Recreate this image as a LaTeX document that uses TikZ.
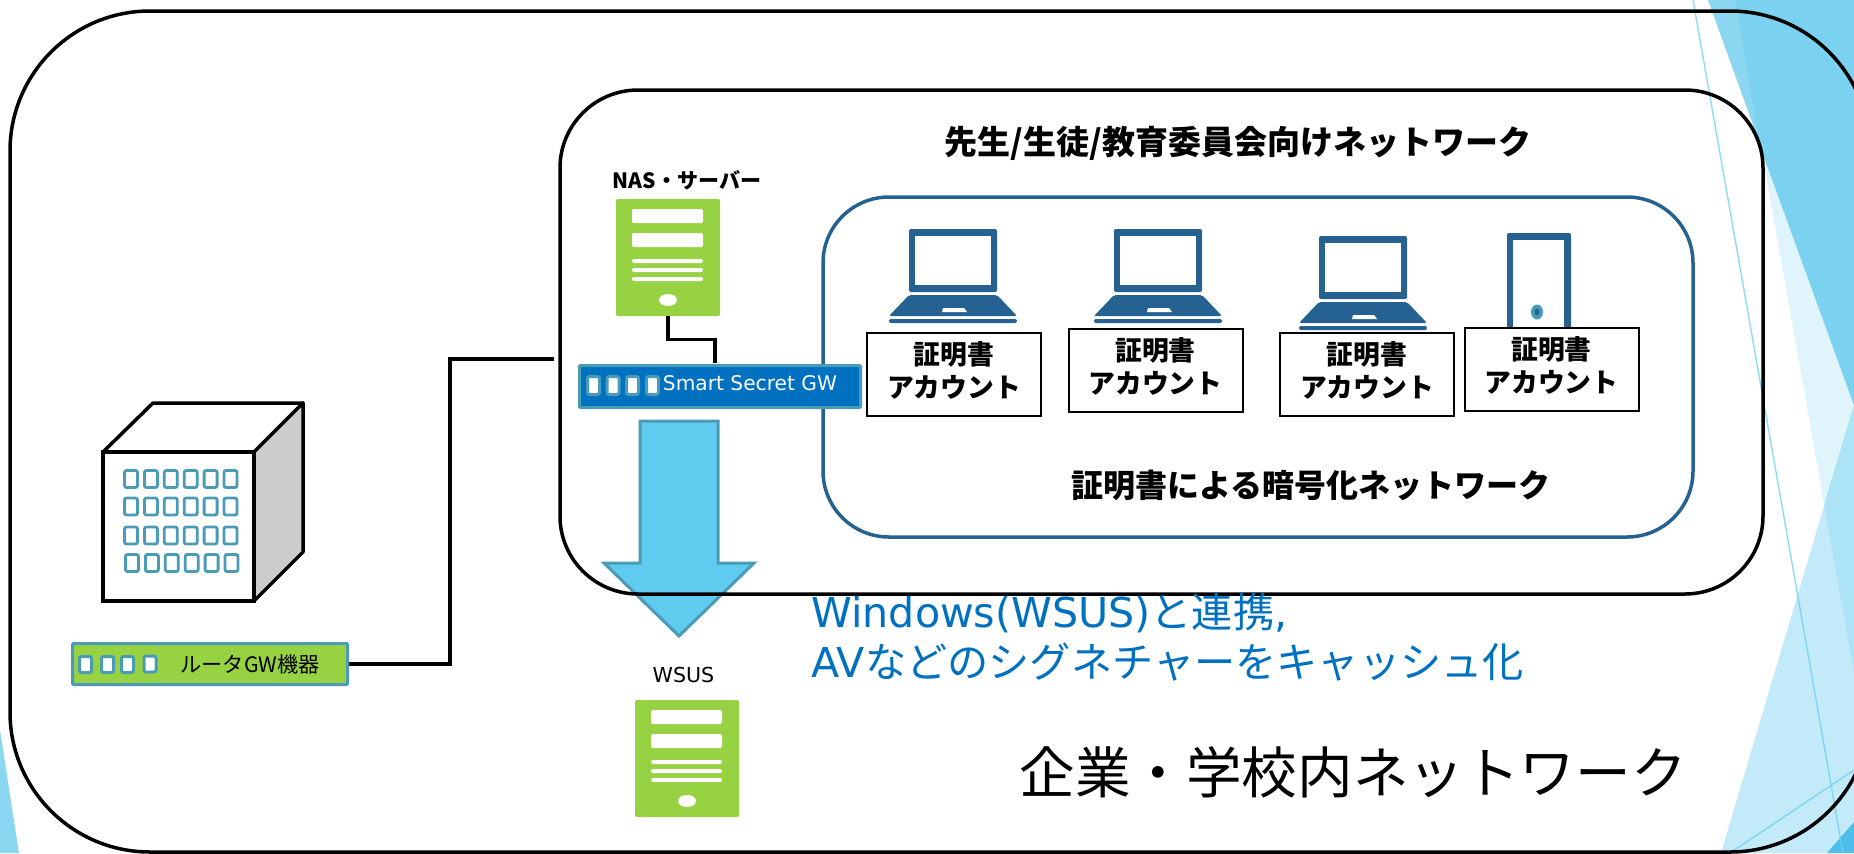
\documentclass[tikz,border=0pt]{standalone}
\usepackage{fontspec}
\setmainfont{DejaVu Sans}
\newfontfamily\cjk{Noto Sans CJK JP}
\usepackage{xcolor}
\usepackage{tikz}
\definecolor{teal1}{HTML}{4A9BB5}
\definecolor{navy1}{HTML}{256291}
\definecolor{green1}{HTML}{97D243}
\definecolor{gwblue}{HTML}{0070C0}
\definecolor{arrowblue}{HTML}{5FCBEF}
\tikzstyle{bgpale} = [fill={rgb,255:red,224;green,244;blue,251}]
\tikzstyle{bgmid} = [fill={rgb,255:red,139;green,215;blue,242}]
\tikzstyle{bgdark} = [fill={rgb,255:red,123;green,209;blue,240}]
\tikzstyle{bglight} = [fill={rgb,255:red,195;green,234;blue,248}]
\tikzstyle{bgcross} = [fill={rgb,255:red,173;green,227;blue,246}]
\tikzstyle{bgdeep} = [fill={rgb,255:red,77;green,189;blue,233}]
\tikzstyle{bgline} = [draw={rgb,255:red,111;green,210;blue,242}, line width=.7pt, opacity=.8]
\tikzstyle{zone} = [rectangle, draw, line width=1.75pt, inner sep=0pt]
\tikzstyle{certzone} = [rectangle, draw=navy1, line width=1.75pt, inner sep=0pt, minimum width=435pt, minimum height=170pt, rounded corners=33pt]
\tikzstyle{line} = [draw, line width=1.75pt]
\tikzstyle{certbox} = [rectangle, draw, fill=white, line width=1pt, inner sep=0pt, minimum width=87pt, minimum height=41.5pt, align=center, text depth=5pt, font=\fontsize{13.4}{16.5}\selectfont\cjk\bfseries]
\tikzstyle{gwbar} = [rectangle, draw=teal1, line width=1.5pt, inner sep=0pt, rounded corners=.5pt]
\tikzstyle{port} = [rectangle, draw=teal1, fill=white, line width=1.5pt, inner sep=0pt, rounded corners=1pt, minimum width=6pt]
\tikzstyle{window} = [rectangle, draw=teal1, fill=white, line width=1.4pt, inner sep=0pt, rounded corners=1pt, minimum width=6.5pt, minimum height=8.5pt]
\tikzstyle{heading} = [inner sep=0pt, font=\fontsize{16}{20}\selectfont\cjk\bfseries]
\newcommand{\serverbox}[3]{
\begin{scope}[shift={(#2,#3)}]
\node [rectangle, fill=green1, inner sep=0pt, minimum width=52pt, minimum height=58.5pt, rounded corners=1pt] (#1) at (52,58.5) {};
\fill [white, rounded corners=1pt] (16,10) rectangle (87,24);
\fill [white, rounded corners=1pt] (16,34) rectangle (87,48);
\fill [white, rounded corners=1pt] (16,60) rectangle (87,64);
\fill [white, rounded corners=1pt] (16,69) rectangle (87,73);
\fill [white, rounded corners=1pt] (16,78) rectangle (87,82);
\fill [white] (52,101) ellipse [x radius=9, y radius=6];
\end{scope}
}
\newcommand{\laptopicon}[2]{
\begin{scope}[shift={(#1,#2)}]
\fill [navy1, rounded corners=1pt] (0,0) rectangle (88,63);
\fill [white] (6,7) rectangle (82,56);
\fill [navy1, rounded corners=1pt] (0,66) -- (88,66) -- (108,87) -- (-20,87) -- cycle;
\fill [white] (34,79) -- (55,79) -- (58,83) -- (33,83) -- cycle;
\fill [navy1, rounded corners=1pt] (-20,90) rectangle (108,94);
\end{scope}
}
\begin{document}
\begin{tikzpicture}[x=.5pt, y=-.5pt]
\useasboundingbox (0,0) rectangle (1854,853);
\clip (0,0) rectangle (1854,853);

\fill [bgpale] (1735,0) -- (1854,673) -- (1854,0) -- cycle;
\fill [bgmid] (1708,0) -- (1854,405) -- (1854,0) -- cycle;
\fill [bgdark] (1735,0) -- (1761,149) -- (1854,405) -- (1854,0) -- cycle;
\fill [bglight] (1854,405) -- (1721,853) -- (1854,853) -- cycle;
\fill [bgcross] (1854,405) -- (1824,505) -- (1854,673) -- cycle;
\fill [bgdeep] (1827,853) -- (1854,822) -- (1854,853) -- cycle;
\fill [bgmid] (0,730) -- (19,853) -- (0,853) -- cycle;
\draw [bgline] (1693,0) -- (1843,853);
\draw [bgline] (1730,853) -- (1854,770);

\node [zone, minimum width=930pt, minimum height=420.5pt, rounded corners=70pt] (campus) at (940,431.5) {};

% building
\draw [line, fill=white, line join=round] (103,452) -- (153,403) -- (303,403) -- (254,452) -- cycle;
\draw [line, fill=black!20, line join=round] (254,452) -- (303,403) -- (303,552) -- (254,601) -- cycle;
\draw [line, fill=white] (103,452) rectangle (254,601);
\foreach \c in {0,...,5} {
\node [window] (wa\c) at (131+19.9*\c,479) {};
\node [window] (wb\c) at (131+19.9*\c,506.5) {};
\node [window] (wc\c) at (131+19.9*\c,535.5) {};
\node [window] (wd\c) at (132+19.9*\c,563) {};
}

% router
\node [gwbar, fill=green1, minimum width=137.5pt, minimum height=20.5pt] (router) at (210,664) {};
\node [port, minimum height=8pt] (rp1) at (85.5,664.5) {};
\node [port, minimum height=8pt] (rp2) at (107.5,664.5) {};
\node [port, minimum height=8pt] (rp3) at (127.5,664.5) {};
\node [port, minimum height=8pt] (rp4) at (150,664) {};
\node [inner sep=0pt, font=\fontsize{10.6}{13}\selectfont\cjk] (routertext) at (250,664) {ルータGW機器};
\coordinate (netedge) at (554,359);
\path [line] (router.east) -- ++(101,0) |- (netedge);

% arrow
\draw [draw=teal1, fill=arrowblue, line width=1.5pt] (640,421) -- (718,421) -- (718,563) -- (754,563) -- (679,636) -- (604,563) -- (640,563) -- cycle;

\node [zone, minimum width=601.5pt, minimum height=252pt, rounded corners=39pt] (schoolnet) at (1161.5,342) {};
\node [certzone] (certnet) at (1258,367) {};
\node [heading, font=\fontsize{16.5}{20}\selectfont\cjk\bfseries] (schooltext) at (1238,143) {先生/生徒/教育委員会向けネットワーク};
\node [heading] (certtext) at (1311,485) {証明書による暗号化ネットワーク};

% servers
\node [inner sep=0pt, font=\fontsize{10.5}{13}\selectfont\cjk\bfseries] (nastext) at (687,180) {NAS・サーバー};
\serverbox{nas}{616}{199}
\node [inner sep=0pt, font=\fontsize{10.3}{13}\selectfont] (wsustext) at (683.5,675) {WSUS};
\serverbox{wsus}{635}{700}

% gateway
\node [gwbar, fill=gwblue, minimum width=140.5pt, minimum height=21pt] (gw) at (720,386.5) {};
\node [port, minimum height=9pt] (gp1) at (593.5,385.5) {};
\node [port, minimum height=9pt] (gp2) at (613,385.5) {};
\node [port, minimum height=9pt] (gp3) at (632.5,385.5) {};
\node [port, minimum height=9pt] (gp4) at (652.5,385.5) {};
\node [inner sep=0pt, text=white, font=\fontsize{10.1}{13}\selectfont] (gwtext) at (750,383) {Smart Secret GW};
\coordinate (gwport) at (715,363);
\path [line] (nas.south) -- ++(0,23) -| (gwport);

% clients
\laptopicon{909}{229}
\laptopicon{1114}{229}
\laptopicon{1319}{236}
\fill [navy1, rounded corners=1pt] (1507,233) rectangle (1571,340);
\fill [white] (1513,240) rectangle (1564,340);
\fill [teal1] (1537,312) ellipse [x radius=6, y radius=7.5];
\fill [navy1] (1537,312) ellipse [x radius=2.5, y radius=3.5];
\node [certbox] (cert1) at (954,374.5) {証明書\\アカウント};
\node [certbox] (cert2) at (1155.5,370.5) {証明書\\アカウント};
\node [certbox] (cert3) at (1367,374.5) {証明書\\アカウント};
\node [certbox] (cert4) at (1551.5,369) {証明書\\アカウント};

% captions
\node [anchor=west, inner sep=0pt, align=left, text=gwblue, font=\fontsize{20.6}{25}\selectfont] (syncnote) at (811,637) {Windows(WSUS){\cjk と連携},\\AV{\cjk などのシグネチャーをキャッシュ化}};
\node [inner sep=0pt, font=\fontsize{27.8}{32}\selectfont\cjk] (campustext) at (1353,772) {企業・学校内ネットワーク};
\end{tikzpicture}
\end{document}
